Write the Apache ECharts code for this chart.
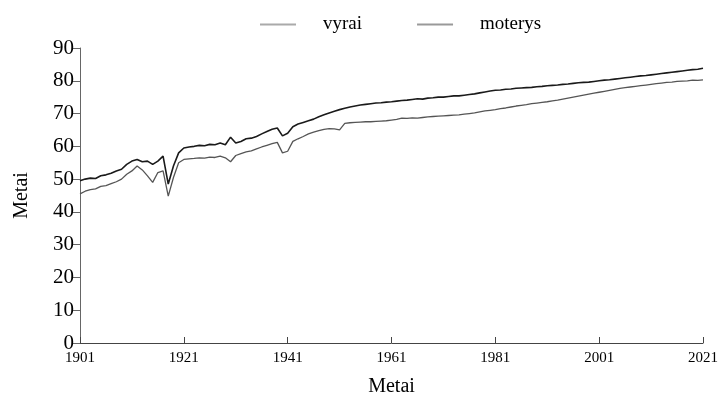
<!DOCTYPE html>
<html lang="lt">
<head>
<meta charset="UTF-8">
<title>Metai</title>
<script src="https://cdn.jsdelivr.net/npm/echarts@6/dist/echarts.min.js"></script>
<style>
  * { margin: 0; padding: 0; box-sizing: border-box; }
  body { background: #fff; }
  #chart { width: 720px; height: 403px; }
</style>
</head>
<body>
<div id="chart"></div>
<script>
// metai 1901..2021
var years = [];
for (var y = 1901; y <= 2021; y++) years.push(String(y));

var vyrai = [
  45.5, 46.3, 46.8, 47.0, 47.8, 48.0, 48.6, 49.2, 50.0, 51.5,
  52.5, 54.0, 52.8, 51.0, 49.0, 52.0, 52.5, 44.8, 50.5, 55.0,
  56.0, 56.2, 56.3, 56.5, 56.4, 56.7, 56.6, 57.0, 56.5, 55.3,
  57.2, 57.8, 58.3, 58.6, 59.2, 59.8, 60.3, 60.8, 61.2, 58.0,
  58.5, 61.5, 62.3, 63.0, 63.8, 64.3, 64.8, 65.2, 65.4, 65.3,
  65.0, 67.0, 67.2, 67.3, 67.4, 67.5, 67.5, 67.6, 67.7, 67.8,
  68.0, 68.2, 68.6, 68.5, 68.7, 68.6, 68.8, 69.0, 69.1, 69.2,
  69.3, 69.4, 69.5, 69.6, 69.8, 70.0, 70.2, 70.5, 70.8, 71.0,
  71.2, 71.5, 71.7, 72.0, 72.3, 72.5, 72.7, 73.0, 73.2, 73.4,
  73.6, 73.9, 74.1, 74.4, 74.7, 75.0, 75.3, 75.6, 75.9, 76.2,
  76.5, 76.8, 77.1, 77.4, 77.7, 77.9, 78.1, 78.3, 78.5, 78.7,
  78.9, 79.1, 79.3, 79.5, 79.6, 79.8, 79.9, 80.0, 80.2, 80.1,
  80.3
];

var moterys = [
  49.5, 50.0, 50.3, 50.2, 51.0, 51.3, 51.8, 52.5, 53.0, 54.5,
  55.5, 56.0, 55.3, 55.5, 54.5, 55.5, 57.0, 48.5, 54.0, 58.0,
  59.5, 59.8, 60.0, 60.3, 60.2, 60.6, 60.5, 61.0, 60.5, 62.8,
  61.0, 61.5, 62.3, 62.5, 63.0, 63.8, 64.5, 65.2, 65.6, 63.2,
  64.0, 66.0, 66.8, 67.3, 67.8, 68.3, 69.0, 69.6, 70.2, 70.7,
  71.2, 71.6, 72.0, 72.3, 72.6, 72.8, 73.0, 73.2, 73.3, 73.5,
  73.6, 73.8, 74.0, 74.1, 74.3, 74.5, 74.4, 74.7, 74.8, 75.0,
  75.0, 75.2, 75.4, 75.4, 75.6, 75.8, 76.0, 76.3, 76.6, 76.9,
  77.1, 77.2, 77.4, 77.5, 77.7, 77.8, 77.9, 78.0, 78.2, 78.3,
  78.5, 78.6, 78.7, 78.9, 79.0, 79.2, 79.4, 79.5, 79.6, 79.8,
  80.0, 80.2, 80.3, 80.5, 80.7, 80.9, 81.1, 81.3, 81.5, 81.6,
  81.8, 82.0, 82.2, 82.4, 82.6, 82.8, 83.0, 83.2, 83.4, 83.5,
  83.8
];

var serif = '"Liberation Serif", "DejaVu Serif", serif';

var chart = echarts.init(document.getElementById('chart'));
chart.setOption({
  animation: false,
  textStyle: { fontFamily: serif, color: '#000' },
  legend: {
    top: 10,
    left: 255,
    icon: 'rect',
    itemWidth: 36,
    itemHeight: 2,
    itemGap: 55,
    textStyle: { fontFamily: serif, fontSize: 19, color: '#000', padding: [0, 0, 0, 22] },
    data: ['vyrai', 'moterys']
  },
  grid: { left: 80, right: 17, top: 48, bottom: 60, outerBoundsMode: 'none' },
  xAxis: {
    type: 'category',
    data: years,
    boundaryGap: false,
    name: 'Metai',
    nameLocation: 'middle',
    nameGap: 34,
    nameTextStyle: { fontFamily: serif, fontSize: 20, color: '#000' },
    axisLine: { lineStyle: { color: '#444', width: 1 } },
    axisTick: { inside: true, interval: 19, length: 6, lineStyle: { color: '#444' } },
    axisLabel: { interval: 19, fontSize: 15, color: '#000', margin: 8 },
    splitLine: { show: false }
  },
  yAxis: {
    type: 'value',
    min: 0,
    max: 90,
    interval: 10,
    name: 'Metai',
    nameLocation: 'middle',
    nameGap: 48,
    nameTextStyle: { fontFamily: serif, fontSize: 20, color: '#000' },
    axisLine: { show: true, lineStyle: { color: '#666', width: 1 } },
    axisTick: { show: true, length: 7, lineStyle: { color: '#666' } },
    axisLabel: { fontSize: 21, color: '#000', margin: 6 },
    splitLine: { show: false }
  },
  series: [
    {
      name: 'vyrai',
      type: 'line',
      data: vyrai,
      symbol: 'none',
      lineStyle: { color: '#555', width: 1.3 },
      itemStyle: { color: '#aaa' }
    },
    {
      name: 'moterys',
      type: 'line',
      data: moterys,
      symbol: 'none',
      lineStyle: { color: '#1a1a1a', width: 1.6 },
      itemStyle: { color: '#999' }
    }
  ]
});
</script>
</body>
</html>
